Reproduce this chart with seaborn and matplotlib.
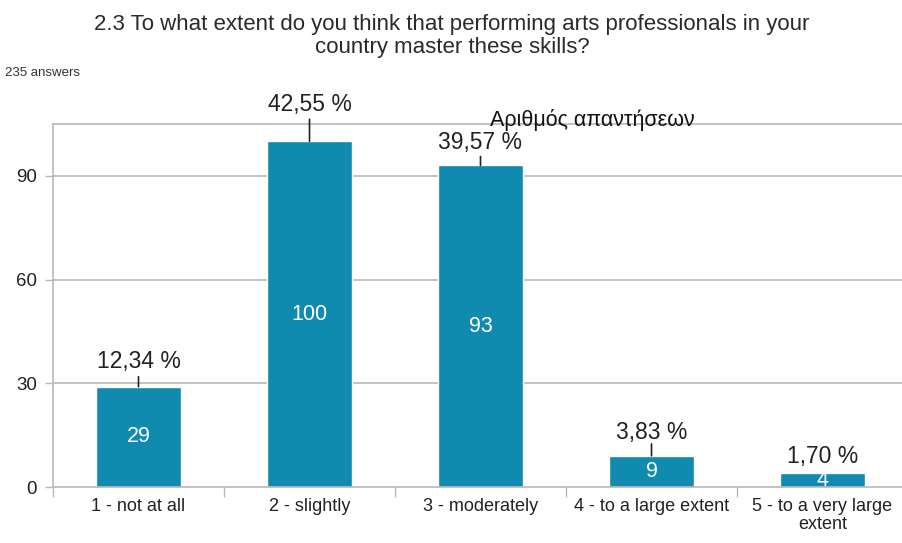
import matplotlib
matplotlib.use("Agg")
import matplotlib.pyplot as plt
import seaborn as sns
import pandas as pd

categories = ["1 - not at all", "2 - slightly", "3 - moderately",
              "4 - to a large extent", "5 - to a very large\nextent"]
counts = [29, 100, 93, 9, 4]
percent_labels = ["12,34 %", "42,55 %", "39,57 %", "3,83 %", "1,70 %"]
yticks = [0, 30, 60, 90]
title = "2.3 To what extent do you think that performing arts professionals in your\ncountry master these skills?"
subtitle = "235 answers"
series_name = "Αριθμός απαντήσεων"

# layout / style (pixel offsets above bar tops for the percent labels)
label_offsets = [25, 37, 23, 23, 17]
leader_lengths = [10, 22, 9, 12, 0]

sns.set_theme(style="white")
plt.rcParams['font.family'] = ['Liberation Sans', 'DejaVu Sans']

df = pd.DataFrame({"category": categories, "count": counts})

fig = plt.figure(figsize=(9.02, 5.43), dpi=100)
ax = fig.add_axes([53/902, 56/543, 855/902, 363/543])

bar_color = "#108aae"
sns.barplot(data=df, x="category", y="count", color=bar_color, width=0.5,
            saturation=1, ax=ax)

ax.set_xlim(-0.5, 4.5)
ax.set_ylim(0, 105)
ax.set_yticks(yticks)
ax.set_xlabel("")
ax.set_ylabel("")
grid_c = "#b8b8b8"
for y in yticks[1:]:
    ax.axhline(y, color=grid_c, lw=1.2, zorder=0)
for s in ["left", "top", "bottom"]:
    ax.spines[s].set_color(grid_c)
    ax.spines[s].set_linewidth(1.2)
ax.spines["right"].set_visible(False)

ax.tick_params(axis="y", length=8 * 0.72, width=1, color=grid_c,
               labelsize=13.5, labelcolor="#222222", pad=8 * 0.72, left=True)
ax.tick_params(axis="x", which="major", length=0, labelsize=13,
               labelcolor="#222222", pad=8)
ax.set_xticks([i - 0.5 for i in range(6)], minor=True)
ax.tick_params(axis="x", which="minor", length=10 * 0.72, width=1,
               color=grid_c, bottom=True)
for lbl in ax.get_xticklabels():
    lbl.set_linespacing(1.05)

for i, (c, p) in enumerate(zip(counts, percent_labels)):
    ax.annotate(p, xy=(i, c), xytext=(0, label_offsets[i]),
                textcoords="offset pixels", ha="center", va="center",
                fontsize=16.5, color="#222222")
    if leader_lengths[i] > 0:
        ax.annotate("", xy=(i, c), xytext=(0, leader_lengths[i]),
                    textcoords="offset pixels",
                    arrowprops=dict(arrowstyle="-", color="#222222", lw=1.2,
                                    shrinkA=0, shrinkB=0))
    ax.text(i, c / 2, str(c), ha="center", va="center", fontsize=15.5,
            color="white")

fig.text(452/902, 1 - 36/543, title, ha="center", va="center", fontsize=16,
         color="#2a2a2a", linespacing=1.1)
fig.text(5/902, 1 - 73/543, subtitle, ha="left", va="center", fontsize=9.5,
         color="#333333")
fig.text(490/902, 1 - 120/543, series_name, ha="left", va="center",
         fontsize=15.5, color="#111111")

fig.savefig("out.png", dpi=100)
